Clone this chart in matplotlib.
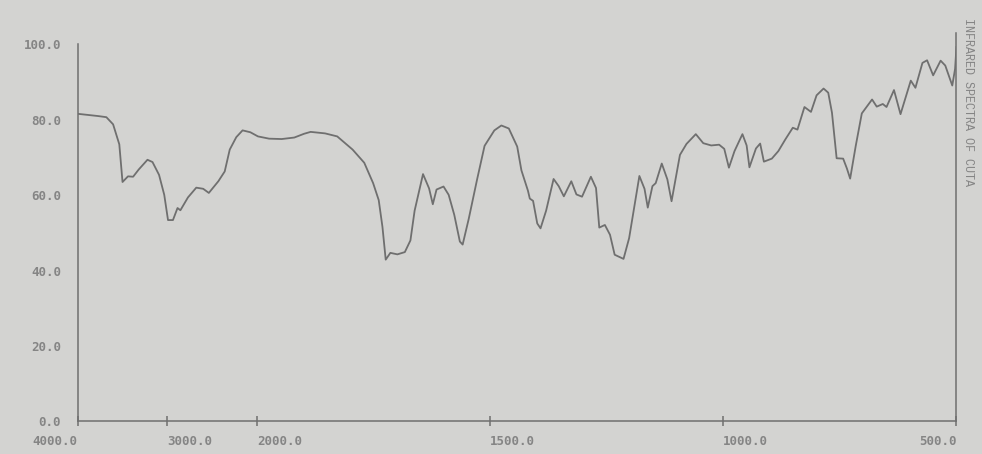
import numpy as np
import matplotlib
matplotlib.use('Agg')
import matplotlib.pyplot as plt

# 读取自图片的红外光谱数据 (波数 cm-1, 透过率 %)
wavenumber = [4000, 3771, 3679, 3604, 3535, 3499, 3438, 3381, 3319, 3221,
              3165, 3092, 3034, 2992, 2937, 2886, 2854, 2770, 2677, 2600,
              2537, 2431, 2360, 2304, 2231, 2161, 2074, 1998, 1974, 1947,
              1920, 1899, 1885, 1854, 1828, 1795, 1770, 1751, 1739, 1731,
              1724, 1714, 1699, 1683, 1671, 1662, 1644, 1631, 1623, 1615,
              1600, 1589, 1577, 1565, 1559, 1546, 1528, 1512, 1491, 1476,
              1460, 1442, 1433, 1419, 1415, 1408, 1399, 1392, 1380, 1364,
              1353, 1342, 1326, 1315, 1303, 1284, 1273, 1266, 1254, 1243,
              1233, 1214, 1202, 1180, 1169, 1162, 1152, 1145, 1132, 1120,
              1111, 1093, 1079, 1059, 1043, 1026, 1009, 998, 988, 976,
              959, 950, 944, 930, 921, 913, 896, 882, 867, 851,
              841, 826, 812, 800, 785, 775, 767, 757, 743, 735,
              728, 716, 703, 681, 671, 658, 650, 634, 620, 598,
              588, 573, 563, 550, 534, 524, 509, 503, 500]
transmittance = [81.6, 81.0, 80.7, 78.8, 73.5, 63.5, 65.0, 64.9, 66.8, 69.4,
                 68.8, 65.4, 60.1, 53.4, 53.4, 56.6, 56.0, 59.4, 62.0, 61.7,
                 60.6, 63.7, 66.3, 72.1, 75.4, 77.2, 76.7, 75.6, 75.0, 74.9,
                 75.3, 76.3, 76.8, 76.4, 75.6, 72.1, 68.6, 63.2, 58.7, 51.6,
                 42.9, 44.7, 44.3, 44.9, 48.0, 55.9, 65.6, 61.8, 57.6, 61.5,
                 62.3, 60.1, 54.8, 47.7, 46.9, 53.7, 64.2, 73.1, 77.2, 78.5,
                 77.7, 72.9, 66.6, 61.2, 59.1, 58.5, 52.5, 51.2, 55.9, 64.3,
                 62.4, 59.7, 63.7, 60.2, 59.6, 64.9, 61.9, 51.4, 52.1, 49.5,
                 44.2, 43.1, 48.6, 65.1, 61.7, 56.7, 62.4, 63.2, 68.4, 64.2,
                 58.4, 70.7, 73.6, 76.2, 73.8, 73.2, 73.4, 72.3, 67.3, 71.7,
                 76.2, 73.2, 67.4, 72.4, 73.7, 68.9, 69.7, 71.7, 74.8, 77.9,
                 77.4, 83.4, 82.1, 86.5, 88.3, 87.2, 81.9, 69.8, 69.7, 67.1,
                 64.4, 73.1, 81.7, 85.4, 83.5, 84.2, 83.4, 87.9, 81.5, 90.4,
                 88.5, 95.1, 95.8, 91.8, 95.7, 94.4, 89.1, 93.5, 99.3]

x_ticks = [4000, 3000, 2000, 1500, 1000, 500]
x_labels = ['4000.0', '3000.0', '2000.0', '1500.0', '1000.0', '500.0']
y_ticks = [0, 20, 40, 60, 80, 100]
y_labels = ['0.0', '20.0', '40.0', '60.0', '80.0', '100.0']
title = 'INFRARED SPECTRA OF CUTA'

BG = '#d3d3d1'
INK = '#6f6f6f'
TXT = '#858585'
MONO = 'DejaVu Sans Mono'

# 2000 cm-1 以上压缩比例 (红外谱图常见的分段刻度)
S = 0.1924


def fwd(x):
    x = np.asarray(x, dtype=float)
    return np.where(x <= 2000, x, 2000 + (x - 2000) * S)


def inv(u):
    u = np.asarray(u, dtype=float)
    return np.where(u <= 2000, u, 2000 + (u - 2000) / S)


fig = plt.figure(figsize=(9.82, 4.54), dpi=100, facecolor=BG)
ax = fig.add_axes([0.079, 0.072, 0.895, 0.855], facecolor=BG)

ax.set_xscale('function', functions=(fwd, inv))
ax.plot(wavenumber, transmittance, color=INK, linewidth=1.3)
ax.set_xlim(4000, 500)
ax.set_ylim(0, 103)

for side in ['left', 'bottom', 'right']:
    ax.spines[side].set_color(INK)
    ax.spines[side].set_linewidth(1.1)
ax.spines['top'].set_visible(False)
ax.spines['left'].set_bounds(0, 100)

ax.set_xticks(x_ticks)
ax.set_xticklabels(x_labels, fontfamily=MONO, fontsize=9, color=TXT, fontweight='bold')
ax.tick_params(axis='x', direction='inout', length=7, width=1.1, color=INK, pad=6)
for lab, t in zip(ax.get_xticklabels(), x_ticks):
    lab.set_ha('right' if t in (4000, 500) else 'left')

ax.set_yticks(y_ticks)
ax.set_yticklabels(y_labels, fontfamily=MONO, fontsize=9, color=TXT, fontweight='bold')
ax.tick_params(axis='y', length=0, pad=12)

fig.text(0.986, 0.96, title, rotation=-90, ha='center', va='top',
         fontfamily='Liberation Mono', fontsize=8.5, color=TXT)

plt.savefig('out.png', dpi=100, facecolor=BG)
plt.close()
